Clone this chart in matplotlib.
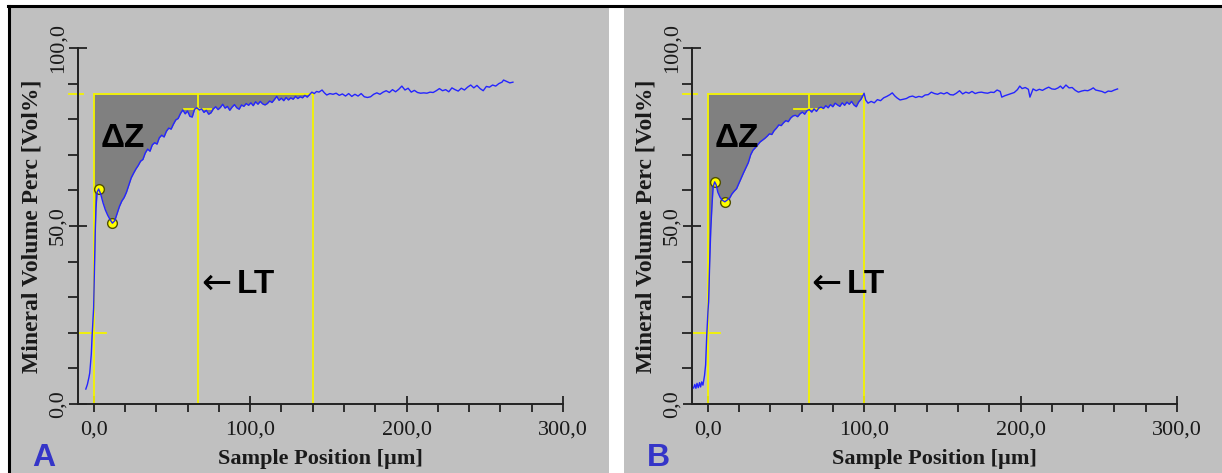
import numpy as np
import matplotlib
matplotlib.use("Agg")
import matplotlib.pyplot as plt
from matplotlib.patches import Rectangle
from matplotlib.lines import Line2D
from matplotlib.ticker import MultipleLocator

# --- data ---
xA = [-5, -4, -3, -2.5, -1.5, -1, 0, 0.5, 1, 1.5, 2.2, 3.2, 4.5, 6, 7.5, 9, 10.5, 12, 13.5, 15,
      16.5, 18, 19.5, 21, 22.5, 24, 25.5, 27, 28.5, 30, 31.5, 33, 34.5, 36, 37.5, 39, 40.5, 42, 43.5, 45,
      46.5, 48, 49.5, 51, 52.5, 54, 55.5, 57, 58.5, 60, 61.5, 63, 64.5, 66, 67.5, 69, 70.5, 72, 73.5, 75,
      76.5, 78, 79.5, 81, 82.5, 84, 85.5, 87, 88.5, 90, 91.5, 93, 94.5, 96, 97.5, 99, 100.5, 102, 103.5, 105,
      106.5, 108, 109.5, 111, 112.5, 114, 115.5, 117, 118.5, 120, 121.5, 123, 124.5, 126, 127.5, 129, 130.5, 132, 133.5, 135,
      136.5, 138, 139.5, 141, 142.5, 144, 146, 147.5, 149, 151, 153, 155, 157, 159, 161, 163, 165, 167, 169, 171,
      173, 175, 177, 179, 181, 183, 185, 187, 189, 191, 193, 195, 197, 199, 201, 203, 205, 207, 209, 211,
      213, 215, 217, 219, 221, 223, 225, 227, 229, 231, 233, 235, 237, 239, 241, 243, 245, 247, 249, 251,
      253, 255, 257, 259, 261, 262, 264, 266, 268]
yA = [4.2, 5.5, 7.5, 8.7, 14, 19, 27, 38, 48, 55, 59.5, 60.4, 59, 56.5, 54.5, 53, 51.8, 50.8, 51.5, 53.5,
      55.5, 57, 58, 59.5, 61.5, 63.5, 64.8, 66, 67, 68.2, 68.7, 70.5, 71.6, 71, 72.8, 73.4, 73, 74.8, 75.5, 75,
      76.6, 77.5, 77.2, 78.6, 79.8, 80.2, 81.6, 82.6, 81.5, 82.3, 80.8, 80.6, 82.8, 83.2, 82.6, 82.9, 81.9, 82.5, 81.4, 81.8,
      82.9, 83.5, 82.7, 83.3, 84.2, 83.1, 83.6, 82.5, 83.4, 84.1, 83.2, 82.8, 84.0, 83.6, 84.4, 83.9, 84.6, 83.8, 84.9, 84.2,
      85.0, 84.3, 84.0, 84.4, 85.1, 84.7, 85.5, 86.4, 85.3, 85.9, 85.2, 86.1, 85.4, 86.0, 85.6, 86.4, 85.8, 86.3, 86.0, 86.7,
      86.2, 86.9, 87.6, 87.2, 87.8, 87.6, 88.2, 87.4, 86.8, 87.2, 87.0, 87.3, 86.7, 87.1, 86.5, 87.2, 86.4, 87.0, 86.5, 87.2,
      86.3, 86.1, 86.3, 87.0, 87.4, 87.0, 87.6, 88.0, 87.5, 88.3, 87.7, 88.4, 89.3, 88.2, 88.7, 87.6, 88.1, 87.5, 87.3, 87.4,
      87.3, 87.6, 87.5, 88.0, 88.6, 88.0, 88.3, 87.7, 88.8, 88.3, 87.9, 88.7, 88.2, 89.0, 89.6, 88.8, 89.5, 88.6, 88.0, 89.2,
      89.0, 89.6, 89.3, 90.0, 90.4, 91.0, 90.6, 90.2, 90.4]

xB = [-9, -8.2, -7.5, -6.8, -6, -5.2, -4.5, -3.8, -3, -2, -1.3, -0.6, 0.2, 0.6, 1.3, 2, 2.8, 3.5, 4.5, 5.5,
      6.5, 8, 9.5, 11, 12.5, 14, 15.5, 17, 18.5, 20, 21.5, 23, 24.5, 26, 27.5, 29, 30.5, 32, 33.5, 35,
      36.5, 38, 39.5, 41, 42.5, 44, 45.5, 47, 48.5, 50, 51.5, 53, 54.5, 56, 57.5, 59, 60.5, 62, 63.5, 65,
      66.5, 68, 69.5, 71, 72.5, 74, 75.5, 77, 78.5, 80, 81.5, 83, 84.5, 86, 87.5, 89, 90.5, 92, 93.5, 95,
      96.5, 98, 99, 100, 101, 102.5, 104.5, 106.5, 108.5, 110.5, 112.5, 114.5, 116.5, 118, 119.5, 121, 123, 125, 127, 129,
      131, 133, 135, 137, 139, 141, 143, 145, 147, 149, 151, 153, 155, 157, 159, 161, 163, 165, 167, 169,
      171, 173, 175, 177, 179, 181, 183, 185, 187, 188, 190, 192, 194, 196, 198, 199.5, 201, 203, 205, 206,
      208, 210, 212, 214, 216, 218, 220, 222, 224, 225.5, 227, 229, 231, 233, 235, 237, 239, 241, 243, 245,
      246.5, 248, 250, 252, 254, 256, 258, 260, 262]
yB = [4.5, 5.5, 4.4, 5.8, 4.6, 6.0, 4.8, 6.2, 5.3, 8, 11, 19, 26, 28.6, 39.6, 49, 56, 61, 62.4, 61.5,
      59.5, 58, 57.2, 56.8, 57.3, 57.8, 59, 59.8, 60.5, 62, 63.5, 65, 66.4, 67.8, 70, 71.3, 72, 72.8, 73.6, 74.1,
      74.6, 75.2, 75.9, 75.7, 76.8, 77.5, 78.4, 78.2, 79.0, 79.6, 79.3, 80.3, 80.9, 81.1, 80.7, 81.5, 82.0, 81.4, 82.4, 82.7,
      82.0, 82.9, 82.2, 83.1, 83.4, 83.0, 83.8, 83.2, 84.1, 83.5, 84.5, 84.0, 83.6, 84.6, 83.9, 84.8, 84.2, 85.0, 84.0, 83.5,
      84.8, 85.6, 86.4, 87.3, 85.4, 84.5, 85.0, 84.6, 85.5, 85.2, 86.0, 86.4, 86.9, 87.4, 86.6, 86.0, 85.4, 85.6, 85.8, 86.3,
      86.5, 86.1, 86.4, 86.2, 86.8, 86.9, 87.6, 87.2, 87.0, 87.4, 87.1, 87.5, 86.9, 86.8, 87.3, 88.0, 87.1, 87.6, 87.3, 87.8,
      87.2, 87.5, 87.6, 87.4, 87.3, 87.6, 87.5, 88.2, 87.8, 86.2, 86.6, 86.9, 87.2, 87.5, 88.3, 89.3, 88.6, 88.9, 88.4, 86.2,
      88.5, 88.0, 88.4, 88.1, 88.6, 89.0, 88.5, 88.4, 88.8, 89.3, 88.6, 89.6, 88.8, 88.9, 88.1, 87.6, 87.9, 88.1, 88.0, 88.4,
      88.8, 88.2, 88.0, 87.8, 87.4, 87.9, 87.8, 88.2, 88.5]

# lesion markers: sound level, lesion depth (LT), end of lesion, 20% level, 95% level, peak & min points
levelA, ltA, endA = 87.0, 66.7, 140.0
levelB, ltB, endB = 87.0, 64.5, 100.0
peakA, minA = (3.2, 60.4), (12.0, 50.8)
peakB, minB = (4.5, 62.4), (11.0, 56.8)
low_level = 20.0
depth_level = 82.8

xticks = [0, 100, 200, 300]
xticklabels = ["0,0", "100,0", "200,0", "300,0"]
yticks = [0, 50, 100]
yticklabels = ["0,0", "50,0", "100,0"]

GRAY_BG = "#c0c0c0"
YELLOW = "#f4f400"
BLUE = "#2424ff"
SERIF = ["Liberation Serif", "DejaVu Serif"]
SANS = ["Liberation Sans", "DejaVu Sans"]

W, H = 1222, 473
fig = plt.figure(figsize=(W / 100, H / 100), dpi=100, facecolor="white")

# panel backgrounds and frame lines
fig.add_artist(Rectangle((10 / W, 0), (609 - 10) / W, 1 - 7 / H, transform=fig.transFigure,
                         facecolor=GRAY_BG, edgecolor="none", zorder=-10))
fig.add_artist(Rectangle((624 / W, 0), (W - 624) / W, 1 - 7 / H, transform=fig.transFigure,
                         facecolor=GRAY_BG, edgecolor="none", zorder=-10))
fig.add_artist(Line2D([8 / W, 1], [1 - 6 / H, 1 - 6 / H], transform=fig.transFigure, color="black", lw=2.2))
fig.add_artist(Line2D([9 / W, 9 / W], [0, 1 - 6 / H], transform=fig.transFigure, color="black", lw=2.2))


def draw_panel(left_px, x, y, level, lt, end, peak, low, letter, letter_px):
    x = np.asarray(x, dtype=float)
    y = np.asarray(y, dtype=float)
    ax = fig.add_axes([left_px / W, 1 - 404 / H, 485 / W, (404 - 48) / H])
    ax.set_facecolor("none")
    ax.set_xlim(-10, 300)
    ax.set_ylim(0, 100)

    # gray area between curve and sound level
    sel = (x >= 0) & (x <= end)
    ax.fill_between(x[sel], np.minimum(y[sel], level), level, color="#808080", lw=0, zorder=1)

    # yellow guide lines
    ax.plot([0, end], [level, level], color=YELLOW, lw=1.3, zorder=2)
    for xv in (0, lt, end):
        ax.plot([xv, xv], [0, level], color=YELLOW, lw=1.3, zorder=2)
    ax.plot([-16, -7], [level, level], color=YELLOW, lw=1.3, zorder=2, clip_on=False)
    ax.plot([-9.5, 8], [low_level, low_level], color=YELLOW, lw=1.3, zorder=2, clip_on=False)
    ax.plot([lt - 9, lt + 8.5], [depth_level, depth_level], color=YELLOW, lw=1.3, zorder=2)

    # marker circles, then the profile on top
    ax.plot([peak[0], low[0]], [peak[1], low[1]], "o", ms=7, mfc="#ffff00", mec="#505000",
            mew=1.0, zorder=3)
    ax.plot(x, y, color=BLUE, lw=1.0, zorder=4)

    ax.text(4.2, 72.2, "ΔZ", fontsize=24, fontweight="bold", family=SANS, ha="left", va="baseline",
            zorder=5)
    ax.text(lt + 2, 31.0, "←", fontsize=26, family=["DejaVu Sans"], ha="left",
            va="baseline", zorder=5)
    ax.text(lt + 24.5, 31.2, "LT", fontsize=24, fontweight="bold", family=SANS, ha="left",
            va="baseline", zorder=5)

    for s in ("top", "right"):
        ax.spines[s].set_visible(False)
    for s in ("left", "bottom"):
        ax.spines[s].set_color("#222222")
        ax.spines[s].set_linewidth(1.4)

    ax.set_xticks(xticks)
    ax.set_xticklabels(xticklabels, family=SERIF, fontsize=16, color="#1a1a1a")
    ax.set_yticks(yticks)
    ax.set_yticklabels(yticklabels, family=SERIF, fontsize=16, color="#1a1a1a",
                       rotation=90, va="center")
    ax.xaxis.set_minor_locator(MultipleLocator(20))
    ax.yaxis.set_minor_locator(MultipleLocator(10))
    ax.tick_params(axis="x", which="major", direction="inout", length=12, width=1.3,
                   color="#222222", pad=6)
    ax.tick_params(axis="x", which="minor", direction="out", length=5.5, width=1.3, color="#222222")
    ax.tick_params(axis="y", which="major", direction="inout", length=13.5, width=1.3,
                   color="#222222", pad=1)
    ax.tick_params(axis="y", which="minor", direction="out", length=7, width=1.3, color="#222222")

    ax.set_xlabel("Sample Position [µm]", family=SERIF, fontsize=16, fontweight="bold",
                  color="#1a1a1a", labelpad=7)
    ax.set_ylabel("Mineral Volume Perc [Vol%]", family=SERIF, fontsize=17, fontweight="bold",
                  color="#1a1a1a", labelpad=4)

    fig.text(letter_px / W, 1 - 458 / H, letter, fontsize=23, fontweight="bold", family=SANS,
             color="#3535c8", ha="center", va="center")
    return ax


draw_panel(78, xA, yA, levelA, ltA, endA, peakA, minA, "A", 44)
draw_panel(692, xB, yB, levelB, ltB, endB, peakB, minB, "B", 658)

fig.savefig("out.png", dpi=100, facecolor="white")
